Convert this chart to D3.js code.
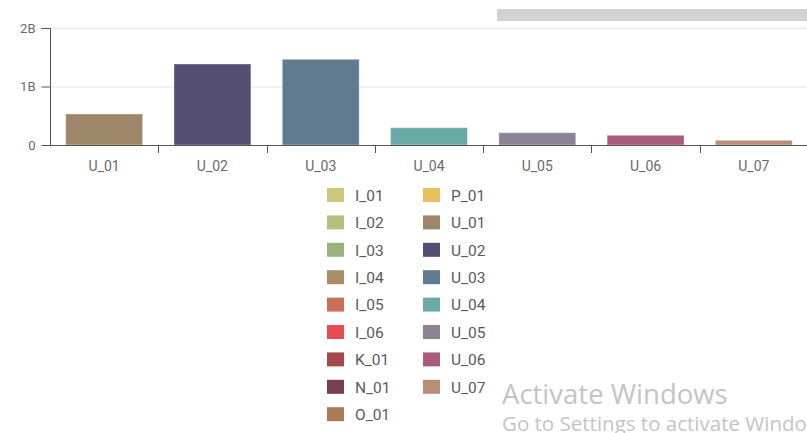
<!DOCTYPE html>
<html>
<head>
<meta charset="utf-8">
<script src="https://cdn.jsdelivr.net/npm/d3@7"></script>
<style>
  body { margin: 0; background: #fff; }
  svg { display: block; font-family: Roboto, "Noto Sans", sans-serif; }
</style>
</head>
<body>
<script>
//bar categories and values (billions)
var categories = ["U_01", "U_02", "U_03", "U_04", "U_05", "U_06", "U_07"];
var values = [0.53e9, 1.385e9, 1.465e9, 0.296e9, 0.21e9, 0.166e9, 0.08e9];
var yTicks = [0, 1e9, 2e9];
var yTickLabels = ["0", "1B", "2B"];

//legend entries, two columns
var legendNames = ["I_01", "I_02", "I_03", "I_04", "I_05", "I_06", "K_01", "N_01", "O_01",
                   "P_01", "U_01", "U_02", "U_03", "U_04", "U_05", "U_06", "U_07"];
var legendColors = ["#cdc77a", "#b4c080", "#98b27c", "#ad8c68", "#cb6e5e", "#e44c51", "#a9464f", "#783f51", "#a97c57",
                    "#e8c060", "#9e866b", "#554f74", "#607b8f", "#6aa9a8", "#8b8293", "#a95c7e", "#b98e78"];

var width = 807,
    height = 433,
    plotLeft = 50,
    plotRight = 808,
    plotTop = 28,
    plotBottom = 145;

var color = d3.scaleOrdinal().domain(legendNames).range(legendColors);

var svg = d3.select("body")
    .append("svg")
    .attr("width", width)
    .attr("height", height);

var x = d3.scaleBand()
    .domain(categories)
    .range([plotLeft, plotRight])
    .paddingInner(0.29)
    .paddingOuter(0.145);

var y = d3.scaleLinear()
    .domain([0, 2e9])
    .range([plotBottom, plotTop]);

//gridlines
svg.selectAll(".grid")
    .data(yTicks.slice(1))
    .enter()
    .append("line")
    .attr("class", "grid")
    .attr("x1", plotLeft)
    .attr("x2", width)
    .attr("y1", function (d) { return y(d) + 0.5; })
    .attr("y2", function (d) { return y(d) + 0.5; })
    .style("stroke", "#e4e4e4");

//top gray scroll bar
svg.append("rect")
    .attr("x", 497)
    .attr("y", 9)
    .attr("width", 310)
    .attr("height", 12)
    .style("fill", "#d2d2d2");

//bars
svg.selectAll(".bars")
    .data(categories)
    .enter()
    .append("rect")
    .attr("class", "bars")
    .attr("x", function (d) { return x(d); })
    .attr("width", x.bandwidth())
    .attr("y", function (d, i) { return y(values[i]); })
    .attr("height", function (d, i) { return plotBottom - y(values[i]); })
    .style("fill", function (d) { return color(d); })
    .style("stroke", "rgba(255,255,255,0.35)")
    .style("stroke-width", 1);

//y axis
var yAxis = d3.axisLeft(y)
    .tickValues(yTicks)
    .tickFormat(function (d, i) { return yTickLabels[i]; })
    .tickSize(9)
    .tickPadding(6);

var yg = svg.append("g")
    .attr("transform", "translate(" + (plotLeft + 0.5) + ",0)")
    .call(yAxis);
yg.select(".domain").attr("d", "M-9," + (plotTop + 0.5) + "H0V" + (plotBottom + 0.5)).style("stroke", "#555");
yg.selectAll(".tick line").style("stroke", "#555");
yg.selectAll("text").style("fill", "#6a6a6a").style("font-size", "13px").style("font-family", "Roboto, sans-serif");

//x axis line with ticks between bands
svg.append("line")
    .attr("x1", plotLeft)
    .attr("x2", width)
    .attr("y1", plotBottom + 0.5)
    .attr("y2", plotBottom + 0.5)
    .style("stroke", "#555");

svg.selectAll(".xticks")
    .data(categories.slice(1))
    .enter()
    .append("line")
    .attr("class", "xticks")
    .attr("x1", function (d) { return Math.round(x(d) - x.step() * 0.145) + 0.5; })
    .attr("x2", function (d) { return Math.round(x(d) - x.step() * 0.145) + 0.5; })
    .attr("y1", plotBottom)
    .attr("y2", plotBottom + 8)
    .style("stroke", "#555");

svg.selectAll(".xlabels")
    .data(categories)
    .enter()
    .append("text")
    .attr("class", "xlabels")
    .attr("x", function (d) { return x(d) + x.bandwidth() / 2; })
    .attr("y", 171)
    .attr("text-anchor", "middle")
    .style("font-size", "14px")
    .style("fill", "#6a6a6a")
    .text(function (d) { return d; });

//legend
var legend = svg.selectAll(".legend")
    .data(legendNames)
    .enter()
    .append("g")
    .attr("class", "legend")
    .attr("transform", function (d, i) {
        var col = i < 9 ? 0 : 1,
            row = i < 9 ? i : i - 9;
        return "translate(" + (327 + col * 96) + "," + (188 + row * 27.4) + ")";
    });

legend.append("rect")
    .attr("width", 17)
    .attr("height", 14)
    .style("fill", function (d) { return color(d); });

legend.append("text")
    .attr("x", 28)
    .attr("y", 12.7)
    .style("font-size", "15.5px")
    .style("fill", "#5a5a5a")
    .text(function (d) { return d; });

//windows watermark
svg.append("text")
    .attr("x", 502)
    .attr("y", 404)
    .style("font-family", "'Open Sans', 'Noto Sans', sans-serif")
    .style("font-size", "27.5px")
    .style("fill", "#c4c4c4")
    .text("Activate Windows");

svg.append("text")
    .attr("x", 502)
    .attr("y", 431)
    .style("font-family", "'Open Sans', 'Noto Sans', sans-serif")
    .style("font-size", "20.5px")
    .style("fill", "#c4c4c4")
    .text("Go to Settings to activate Windows.");
</script>
</body>
</html>
